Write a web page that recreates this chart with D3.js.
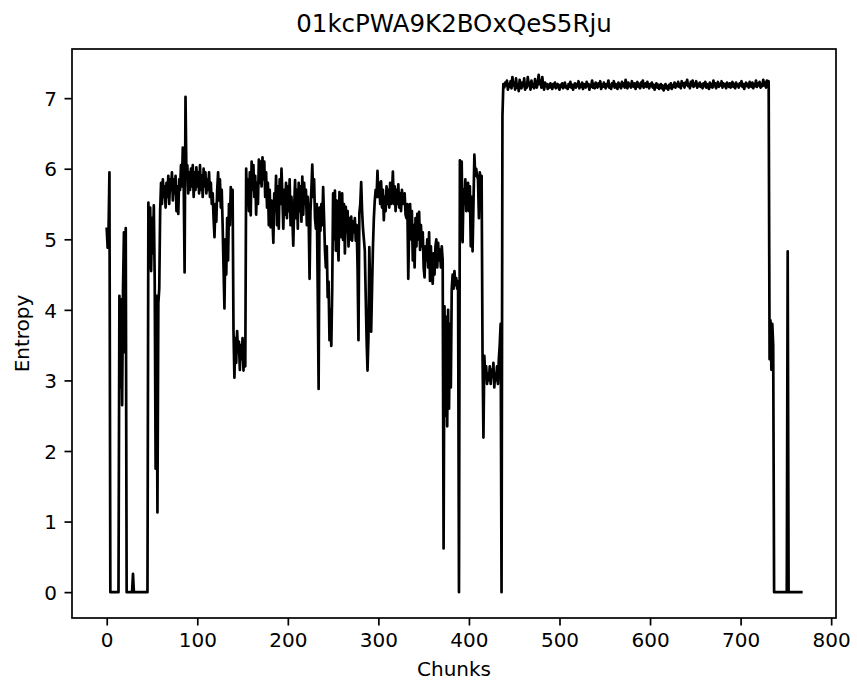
<!DOCTYPE html>
<html>
<head>
<meta charset="utf-8">
<script src="https://cdn.jsdelivr.net/npm/d3@7"></script>
<style>
  html, body { margin: 0; padding: 0; background: #ffffff; }
  svg { display: block; font-family: "DejaVu Sans", sans-serif; }
</style>
</head>
<body>
<svg id="chart" width="857" height="685"></svg>
<script>
// Labels and ticks
const chartTitle = "01kcPWA9K2BOxQeS5Rju";
const xLabel = "Chunks";
const yLabel = "Entropy";
const xTicks = [0, 100, 200, 300, 400, 500, 600, 700, 800];
const yTicks = [0, 1, 2, 3, 4, 5, 6, 7];

// Entropy per chunk, in blocks of 100 chunks
const entropy000 = [
  5.15, 4.88, 5.12, 5.95, 0, 0, 0, 0, 0, 0,
  0, 0, 0, 0, 4.2, 2.9, 4.15, 2.65, 4.3, 5.1,
  3.4, 5.16, 0, 0, 0, 0, 0, 0, 0, 0.26,
  0, 0, 0, 0, 0, 0, 0, 0, 0, 0,
  0, 0, 0, 0, 0, 0, 5.52, 4.6, 5.45, 4.55,
  5.3, 4.8, 5.48, 4.4, 1.75, 4.2, 1.13, 4.1, 4.3, 5.4,
  5.8, 5.5, 5.85, 5.6, 5.75, 5.45, 5.8, 5.6, 5.9, 5.5,
  5.85, 5.7, 5.95, 5.55, 5.85, 5.65, 5.9, 5.4, 5.75, 5.36,
  5.85, 5.7, 6.05, 5.75, 6.3, 5.8, 4.53, 7.02, 5.9, 6.05,
  5.65, 5.95, 5.7, 6.0, 5.75, 6.05, 5.6, 5.95, 5.7, 6.02
];
const entropy100 = [
  5.75, 5.95, 5.65, 6.05, 5.7, 5.9, 5.6, 6.0, 5.75, 5.95,
  5.65, 5.85, 5.7, 5.95, 5.6, 5.8, 5.5, 5.65, 5.3, 5.03,
  5.5, 5.25, 5.7, 5.95, 5.55, 5.85, 5.45, 5.7, 5.2, 4.6,
  4.02, 5.0, 4.5, 5.3, 4.7, 5.5, 5.2, 5.74, 5.4, 5.7,
  3.7, 3.04, 3.6, 3.25, 3.7, 3.4, 3.55, 3.15, 3.5, 3.3,
  3.6, 3.14, 3.45, 3.2, 6.0, 5.5, 5.85, 5.4, 5.95, 5.34,
  6.1, 5.7, 6.05, 5.6, 5.9, 5.35, 5.8, 5.5, 6.13, 5.8,
  6.1, 5.75, 6.16, 5.85, 6.1, 5.6, 5.95, 5.45, 5.8, 5.2,
  5.7, 5.17, 5.55, 5.3, 4.95, 5.65, 5.4, 5.9, 5.2, 5.75,
  5.15, 5.85, 5.5, 6.0, 5.6, 5.15, 5.7, 5.35, 5.8, 5.3
];
const entropy200 = [
  5.75, 5.4, 5.85, 5.2, 5.6, 5.3, 4.91, 5.45, 5.84, 5.3,
  5.7, 5.15, 5.8, 5.4, 5.75, 5.25, 5.89, 5.35, 5.8, 5.5,
  5.7, 5.2, 5.6, 5.3, 4.44, 5.4, 5.7, 6.06, 5.6, 5.85,
  5.3, 5.15, 5.5, 4.3, 2.88, 5.45, 5.12, 5.5, 5.2, 5.74,
  5.3, 4.84, 4.6, 4.9, 4.18, 4.4, 3.57, 4.0, 3.49, 4.3,
  5.65, 5.0, 5.69, 4.84, 5.55, 5.0, 4.7, 5.67, 5.1, 5.03,
  5.65, 4.99, 5.5, 4.8, 5.46, 5.1, 5.4, 4.9, 5.3, 5.0,
  5.32, 4.98, 5.25, 5.1, 5.3, 4.98, 5.2, 4.6, 3.57, 5.37,
  5.5, 5.81, 5.4, 5.15, 5.0, 4.84, 4.2, 3.57, 3.14, 3.6,
  4.89, 4.2, 3.69, 4.3, 4.89, 5.3, 5.55, 5.7, 5.6, 5.97
];
const entropy300 = [
  5.6, 5.8, 5.5, 5.82, 5.45, 5.7, 5.27, 5.6, 5.4, 5.75,
  5.5, 5.7, 5.45, 5.8, 5.5, 5.65, 5.96, 5.5, 5.75, 5.4,
  5.7, 5.5, 5.78, 5.45, 5.65, 5.4, 5.7, 5.5, 5.6, 5.65,
  5.35, 5.3, 5.5, 4.44, 5.2, 5.5, 5.0, 5.4, 4.7, 5.2,
  4.6, 5.3, 4.9, 5.36, 5.0, 5.39, 4.85, 5.2, 4.9, 5.1,
  4.6, 4.46, 4.9, 4.7, 5.0, 4.6, 5.1, 4.41, 4.9, 4.5,
  4.37, 4.8, 4.5, 4.9, 5.0, 4.6, 4.95, 4.7, 4.85, 4.6,
  4.9, 4.7, 0.62, 4.05, 2.5, 3.9, 2.35, 4.0, 2.6, 3.8,
  2.9, 4.3, 4.5, 4.3, 4.55, 4.35, 4.45, 4.3, 4.4, 0,
  6.12, 5.0, 6.1, 4.96, 5.7, 5.5, 5.85, 5.4, 5.6, 5.8
];
const entropy400 = [
  5.4, 5.75, 4.9, 5.6, 4.83, 5.5, 6.2, 5.9, 6.0, 5.9,
  5.85, 5.3, 5.95, 5.8, 5.9, 3.4, 2.19, 3.35, 3.05, 3.2,
  2.95, 3.1, 3.0, 3.2, 2.95, 3.15, 3.05, 3.25, 2.9, 3.1,
  3.0, 3.2, 2.95, 3.3, 3.5, 3.8, 0, 6.75, 7.2, 7.15,
  7.22, 7.18, 7.25, 7.12, 7.2, 7.16, 7.24, 7.14, 7.3, 7.18,
  7.22, 7.12, 7.28, 7.15, 7.2, 7.1, 7.26, 7.18, 7.14, 7.22,
  7.17, 7.28, 7.12, 7.2, 7.15, 7.3, 7.18, 7.22, 7.12, 7.25,
  7.16, 7.2, 7.14, 7.27, 7.18, 7.15, 7.22, 7.33, 7.2, 7.25,
  7.15, 7.3, 7.18, 7.12, 7.22, 7.17, 7.2, 7.13, 7.19, 7.15,
  7.21, 7.17, 7.13, 7.2, 7.16, 7.22, 7.14, 7.18, 7.2, 7.15
];
const entropy500 = [
  7.12, 7.19, 7.16, 7.21, 7.14, 7.18, 7.22, 7.15, 7.17, 7.13,
  7.2, 7.16, 7.23, 7.15, 7.19, 7.12, 7.18, 7.21, 7.15, 7.2,
  7.17, 7.24, 7.14, 7.19, 7.16, 7.22, 7.13, 7.2, 7.18, 7.15,
  7.23, 7.17, 7.2, 7.12, 7.19, 7.16, 7.25, 7.15, 7.2, 7.14,
  7.22, 7.18, 7.15, 7.21, 7.17, 7.24, 7.13, 7.19, 7.16, 7.22,
  7.18, 7.14, 7.2, 7.17, 7.25, 7.15, 7.19, 7.13, 7.21, 7.17,
  7.24, 7.15, 7.2, 7.18, 7.13, 7.22, 7.16, 7.2, 7.14, 7.23,
  7.17, 7.21, 7.15, 7.26, 7.18, 7.14, 7.22, 7.17, 7.2, 7.15,
  7.24, 7.18, 7.16, 7.21, 7.13, 7.19, 7.23, 7.16, 7.2, 7.14,
  7.22, 7.17, 7.25, 7.15, 7.19, 7.21, 7.16, 7.23, 7.18, 7.14
];
const entropy600 = [
  7.2, 7.17, 7.22, 7.15, 7.19, 7.12, 7.18, 7.21, 7.15, 7.19,
  7.13, 7.17, 7.2, 7.14, 7.18, 7.11, 7.16, 7.2, 7.14, 7.17,
  7.12, 7.19, 7.15, 7.21, 7.13, 7.18, 7.16, 7.22, 7.15, 7.2,
  7.17, 7.23, 7.16, 7.2, 7.14, 7.24, 7.18, 7.21, 7.15, 7.22,
  7.19, 7.26, 7.17, 7.2, 7.14, 7.23, 7.18, 7.25, 7.16, 7.21,
  7.18, 7.24, 7.15, 7.2, 7.17, 7.22, 7.16, 7.19, 7.14, 7.21,
  7.17, 7.23, 7.15, 7.2, 7.18, 7.13, 7.22, 7.16, 7.2, 7.15,
  7.25, 7.17, 7.21, 7.14, 7.19, 7.23, 7.16, 7.2, 7.18, 7.24,
  7.15, 7.21, 7.17, 7.2, 7.14, 7.22, 7.18, 7.16, 7.21, 7.15,
  7.19, 7.23, 7.16, 7.2, 7.14, 7.22, 7.17, 7.19, 7.15, 7.21
];
const entropy700 = [
  7.18, 7.24, 7.16, 7.2, 7.13, 7.19, 7.22, 7.17, 7.2, 7.15,
  7.23, 7.18, 7.16, 7.22, 7.14, 7.2, 7.17, 7.25, 7.16, 7.21,
  7.18, 7.23, 7.15, 7.2, 7.17, 7.26, 7.18, 7.22, 7.15, 7.25,
  7.2, 7.24, 3.3, 3.85, 3.15, 3.8, 3.5, 0, 0, 0,
  0, 0, 0, 0, 0, 0, 0, 0, 0, 0,
  0, 0, 4.83, 0, 0, 0, 0, 0, 0, 0,
  0, 0, 0, 0, 0, 0, 0, 0
];

const entropy = [].concat(entropy000, entropy100, entropy200, entropy300,
                          entropy400, entropy500, entropy600, entropy700);
const points = entropy.map((v, i) => [i, v]);

// Plot area
const plot = { left: 72, right: 836, top: 49, bottom: 618 };

// Axis limits with a 5% margin around the data extent
const xExt = [0, entropy.length - 1];
const yExt = d3.extent(entropy);
const xPad = (xExt[1] - xExt[0]) * 0.05;
const yPad = (yExt[1] - yExt[0]) * 0.05;

const x = d3.scaleLinear()
  .domain([xExt[0] - xPad, xExt[1] + xPad])
  .range([plot.left, plot.right]);
const y = d3.scaleLinear()
  .domain([yExt[0] - yPad, yExt[1] + yPad])
  .range([plot.bottom, plot.top]);

const svg = d3.select("#chart");

// Data line
const line = d3.line().x(d => x(d[0])).y(d => y(d[1]));
svg.append("path")
  .datum(points)
  .attr("d", line)
  .attr("fill", "none")
  .attr("stroke", "#000000")
  .attr("stroke-width", 2.7)
  .attr("stroke-linejoin", "round")
  .attr("stroke-linecap", "square");

// Axes
const tickLen = 7.5, tickPad = 7.5;
const xAxis = d3.axisBottom(x).tickValues(xTicks).tickFormat(d3.format("d"))
  .tickSize(tickLen).tickSizeOuter(0).tickPadding(tickPad);
const yAxis = d3.axisLeft(y).tickValues(yTicks).tickFormat(d3.format("d"))
  .tickSize(tickLen).tickSizeOuter(0).tickPadding(tickPad);

const gx = svg.append("g").attr("transform", `translate(0,${plot.bottom})`).call(xAxis);
const gy = svg.append("g").attr("transform", `translate(${plot.left},0)`).call(yAxis);

[gx, gy].forEach(g => {
  g.select(".domain").remove();
  g.selectAll(".tick line").attr("stroke", "#000").attr("stroke-width", 1.7);
  g.selectAll(".tick text")
    .attr("fill", "#000")
    .style("font-family", "'DejaVu Sans', sans-serif")
    .style("font-size", "20px");
});
gy.selectAll(".tick text").attr("dy", "0.36em");

// Frame
svg.append("rect")
  .attr("x", plot.left).attr("y", plot.top)
  .attr("width", plot.right - plot.left)
  .attr("height", plot.bottom - plot.top)
  .attr("fill", "none")
  .attr("stroke", "#000")
  .attr("stroke-width", 1.7);

// Title and axis labels
svg.append("text")
  .attr("x", (plot.left + plot.right) / 2)
  .attr("y", 32)
  .attr("text-anchor", "middle")
  .style("font-size", "24.5px")
  .attr("fill", "#000")
  .text(chartTitle);

svg.append("text")
  .attr("x", (plot.left + plot.right) / 2)
  .attr("y", 676)
  .attr("text-anchor", "middle")
  .style("font-size", "20px")
  .attr("fill", "#000")
  .text(xLabel);

svg.append("text")
  .attr("transform", `translate(28.5,${(plot.top + plot.bottom) / 2}) rotate(-90)`)
  .attr("text-anchor", "middle")
  .style("font-size", "20px")
  .attr("fill", "#000")
  .text(yLabel);
</script>
</body>
</html>
